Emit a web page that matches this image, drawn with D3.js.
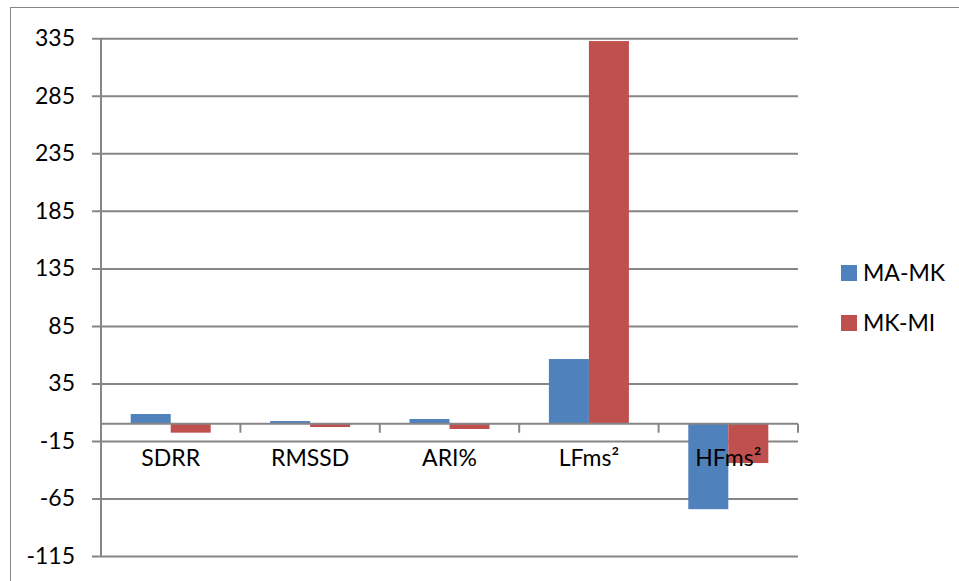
<!DOCTYPE html>
<html>
<head>
  <meta charset="utf-8">
  <script src="https://d3js.org/d3.v7.min.js"></script>
  <style>
    body { margin: 0; background: #fff; }
    text { font-family: Lato, "Open Sans", sans-serif; fill: #000; }
  </style>
</head>
<body>
<script>
  var w = 959, h = 581;

  // data
  var categories = ["SDRR", "RMSSD", "ARI%", "LFms²", "HFms²"];
  var seriesNames = ["MA-MK", "MK-MI"];
  var maMk = [8.4, 2.3, 4.1, 56.2, -74.3];
  var mkMi = [-7.8, -2.9, -4.6, 332.6, -34.2];
  var yTicks = [-115, -65, -15, 35, 85, 135, 185, 235, 285, 335];
  var colors = ["#4F81BD", "#C0504D"];

  var seriesValues = [maMk, mkMi];

  var svg = d3.select("body").append("svg").attr("width", w).attr("height", h);

  // chart border
  svg.append("rect")
    .attr("x", 10.5).attr("y", 7.5)
    .attr("width", 960).attr("height", 590)
    .attr("fill", "none").attr("stroke", "#868686");

  var plotL = 101, plotR = 798, plotT = 38.3, plotB = 556;

  var y = d3.scaleLinear().domain([-115, 335]).range([plotB, plotT]);
  var x0 = d3.scaleBand().domain(categories).range([plotL, plotR]).padding(0);
  var gap = x0.bandwidth() * 0.213;
  var x1 = d3.scaleBand().domain(seriesNames).range([gap, x0.bandwidth() - gap]);

  // gridlines + y axis (plain hyphen for negatives, like the original)
  var yAxis = d3.axisLeft(y).tickValues(yTicks).tickFormat(function(d) { return String(d); })
    .tickSize(-(plotR - plotL)).tickPadding(26).tickSizeOuter(0);
  var gy = svg.append("g").attr("transform", "translate(" + plotL + ",0)").call(yAxis);
  gy.select(".domain").remove();
  gy.selectAll(".tick line").attr("x1", -9).attr("stroke", "#868686").attr("stroke-width", 2);
  gy.selectAll(".tick text").attr("font-size", 23).attr("fill", "#000")
    .style("font-family", "Lato, sans-serif");
  svg.append("line")
    .attr("x1", plotL).attr("x2", plotL).attr("y1", plotT).attr("y2", plotB)
    .attr("stroke", "#868686").attr("stroke-width", 2);

  // bars
  var groups = svg.selectAll("g.cat")
    .data(categories)
    .enter().append("g")
    .attr("class", "cat")
    .attr("transform", function(d) { return "translate(" + x0(d) + ",0)"; });

  groups.selectAll("rect")
    .data(function(d, i) {
      return seriesNames.map(function(s, j) { return { s: s, v: seriesValues[j][i], c: colors[j] }; });
    })
    .enter().append("rect")
    .attr("x", function(d) { return x1(d.s); })
    .attr("width", x1.bandwidth())
    .attr("y", function(d) { return y(Math.max(0, d.v)); })
    .attr("height", function(d) { return Math.abs(y(d.v) - y(0)); })
    .attr("fill", function(d) { return d.c; });

  // category axis at zero
  var gx = svg.append("g").attr("transform", "translate(0," + y(0) + ")");
  gx.append("line")
    .attr("x1", plotL).attr("x2", plotR)
    .attr("stroke", "#868686").attr("stroke-width", 2);
  gx.selectAll("line.tk")
    .data(categories)
    .enter().append("line")
    .attr("class", "tk")
    .attr("x1", function(d) { return x0(d) + x0.bandwidth(); })
    .attr("x2", function(d) { return x0(d) + x0.bandwidth(); })
    .attr("y1", 0).attr("y2", 9)
    .attr("stroke", "#868686").attr("stroke-width", 2);
  gx.selectAll("text.cl")
    .data(categories)
    .enter().append("text")
    .attr("class", "cl")
    .attr("x", function(d) { return x0(d) + x0.bandwidth() / 2; })
    .attr("y", 42)
    .attr("text-anchor", "middle")
    .attr("font-size", 23)
    .text(function(d) { return d; });

  // legend
  var legend = svg.selectAll("g.leg")
    .data(seriesNames)
    .enter().append("g")
    .attr("class", "leg")
    .attr("transform", function(d, i) { return "translate(841," + (265 + i * 50) + ")"; });
  legend.append("rect").attr("width", 16).attr("height", 16)
    .attr("fill", function(d, i) { return colors[i]; });
  legend.append("text").attr("x", 22).attr("y", 16).attr("font-size", 23)
    .text(function(d) { return d; });
</script>
</body>
</html>
